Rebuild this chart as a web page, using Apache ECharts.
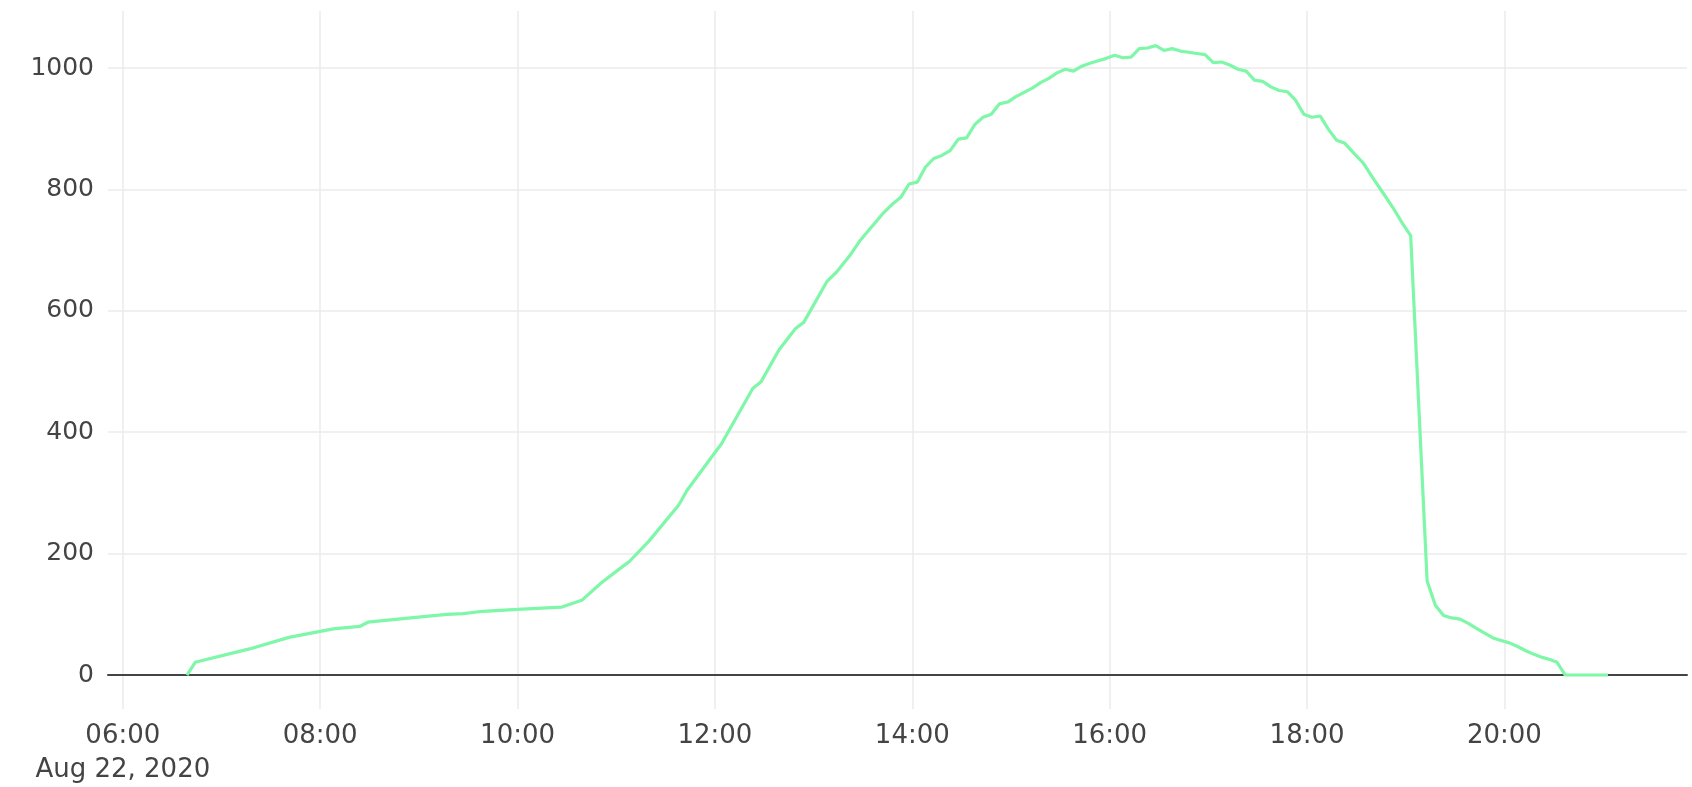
<!DOCTYPE html>
<html>
<head>
<meta charset="utf-8">
<script src="https://cdn.jsdelivr.net/npm/echarts@6/dist/echarts.min.js"></script>
<style>
html,body{margin:0;padding:0;background:#fff;overflow:hidden;}
#c{width:1692px;height:787px;}
</style>
</head>
<body>
<div id="c"></div>
<script>
// ---- data ----
const times = ['06:39','06:44','07:17','07:41','08:00','08:08','08:24','08:29','08:55','09:17','09:27','09:39','10:00','10:27','10:39','10:51','11:04','11:08','11:20','11:38','11:43','11:59','12:04','12:23','12:28','12:39','12:49','12:54','13:08','13:14','13:22','13:28','13:42','13:48','13:53','13:58','14:03','14:08','14:13','14:18','14:23','14:28','14:33','14:38','14:43','14:48','14:53','14:58','15:03','15:08','15:13','15:18','15:23','15:28','15:33','15:38','15:43','15:48','15:53','15:58','16:03','16:08','16:13','16:18','16:23','16:28','16:33','16:38','16:43','16:48','16:53','16:58','17:03','17:08','17:13','17:18','17:23','17:28','17:33','17:38','17:43','17:48','17:53','17:58','18:03','18:08','18:13','18:18','18:23','18:28','18:34','18:40','18:46','18:52','18:58','19:03','19:13','19:18','19:23','19:28','19:33','19:38','19:43','19:48','19:53','19:58','20:03','20:08','20:13','20:18','20:23','20:28','20:32','20:37','20:45','20:55','21:03'];
const values = [0,21,43,62,72,76,80,87,94,100,101,105,108,112,123,152,179,187,221,280,304,363,381,472,483,536,571,581,648,664,691,715,760,776,787,809,812,837,851,856,864,883,885,907,919,924,941,944,953,960,967,976,983,992,998,995,1003,1008,1012,1016,1021,1017,1018,1032,1033,1037,1029,1032,1028,1026,1024,1022,1009,1010,1005,998,995,980,978,969,963,961,947,924,919,921,899,881,876,861,844,819,795,771,744,724,155,115,98,94,92,85,77,69,61,57,53,47,40,34,29,25,21,0,0,0,0];
const dateLabel = 'Aug 22, 2020';
const xRange = ['05:51', '21:51'];
const yRange = [-56, 1094];

// ---- helpers ----
function toHours(t) { const p = t.split(':'); return +p[0] + (+p[1]) / 60; }
function fmtHours(v) {
  let h = Math.floor(v + 1e-9);
  let m = Math.round((v - h) * 60);
  if (m === 60) { h += 1; m = 0; }
  return String(h).padStart(2, '0') + ':' + String(m).padStart(2, '0');
}
const xMin = toHours(xRange[0]);
const xMax = toHours(xRange[1]);
const firstTick = Math.ceil(xMin / 2) * 2;
const seriesData = times.map((t, i) => [toHours(t), values[i]]);

const FONT = 'DejaVu Sans';
const GRID = '#ebebeb';
const chart = echarts.init(document.getElementById('c'), null, { renderer: 'canvas' });
chart.setOption({
  animation: false,
  backgroundColor: '#fff',
  grid: { left: 108, right: 5, top: 11, bottom: 57, containLabel: false },
  xAxis: [{
    type: 'value',
    min: xMin, max: xMax,
    splitNumber: 8,
    axisLine: { show: false, onZero: false },
    axisTick: { show: false },
    axisLabel: {
      color: '#444', fontFamily: FONT, fontSize: 26, margin: 10, lineHeight: 34,
      showMinLabel: false, showMaxLabel: false,
      formatter: function (v) {
        const s = fmtHours(v);
        return Math.abs(v - firstTick) < 1e-6 ? s + '\n' + dateLabel : s;
      }
    },
    splitLine: { show: true, showMinLine: false, showMaxLine: false, lineStyle: { color: GRID, width: 1.5 } }
  }, {
    type: 'value',
    min: xMin, max: xMax,
    position: 'bottom',
    axisLine: { show: true, onZero: true, lineStyle: { color: '#444', width: 2 } },
    axisTick: { show: false },
    axisLabel: { show: false },
    splitLine: { show: false }
  }],
  yAxis: {
    type: 'value',
    min: yRange[0], max: yRange[1],
    splitNumber: 5,
    axisLine: { show: false },
    axisTick: { show: false },
    axisLabel: {
      color: '#444', fontFamily: FONT, fontSize: 25, margin: 14,
      showMinLabel: false, showMaxLabel: false,
      formatter: function (v) { return String(v); }
    },
    splitLine: { show: true, showMinLine: false, showMaxLine: false, lineStyle: { color: GRID, width: 1.5 } }
  },
  series: [{
    type: 'line',
    xAxisIndex: 0,
    data: seriesData,
    showSymbol: false,
    smooth: false,
    lineStyle: { color: '#7ef7a8', width: 3.2 },
    itemStyle: { color: '#7ef7a8' },
    z: 3
  }]
});
</script>
</body>
</html>
